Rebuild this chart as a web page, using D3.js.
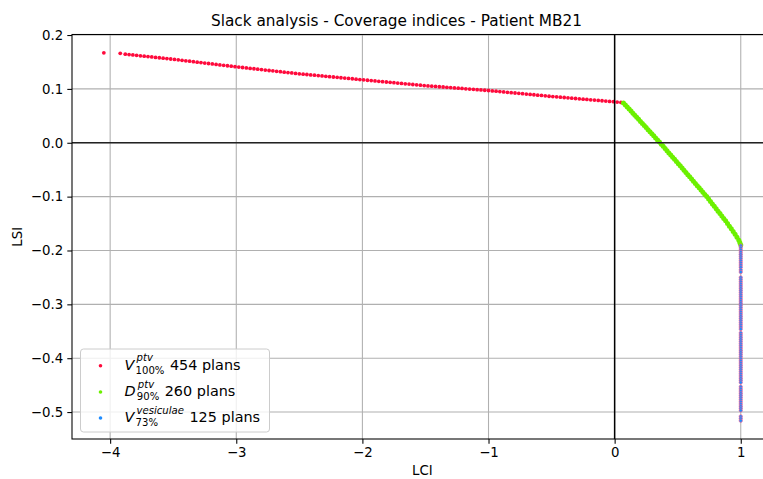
<!DOCTYPE html>
<html>
<head>
<meta charset="utf-8">
<script src="https://cdn.jsdelivr.net/npm/d3@7"></script>
<style>
body{margin:0;background:#fff;}
svg{display:block;font-family:"DejaVu Sans",sans-serif;}
</style>
</head>
<body>
<div id="main_div"></div>
<script>
// series (LCI, LSI)
let redX=[-4.05,-3.92,
-3.88,-3.85,-3.82,-3.79,-3.76,-3.73,-3.70,-3.67,-3.64,-3.61,-3.58,-3.55,-3.52,
-3.49,-3.46,-3.43,-3.40,-3.37,-3.34,-3.31,-3.28,-3.25,-3.22,-3.19,-3.16,-3.13,-3.10,-3.07,-3.04,-3.01,
-2.98,-2.95,-2.92,-2.89,-2.86,-2.83,-2.80,-2.77,-2.74,-2.71,-2.68,-2.65,-2.62,-2.59,-2.56,-2.53,
-2.50,-2.47,-2.44,-2.41,-2.38,-2.35,-2.32,-2.29,-2.26,-2.23,-2.20,-2.17,-2.14,-2.11,-2.08,-2.05,-2.02,
-1.99,-1.96,-1.93,-1.90,-1.87,-1.84,-1.81,-1.78,-1.75,-1.72,-1.69,-1.66,-1.63,-1.60,-1.57,-1.54,-1.51,
-1.48,-1.45,-1.42,-1.39,-1.36,-1.33,-1.30,-1.27,-1.24,-1.21,-1.18,-1.15,-1.12,-1.09,-1.06,-1.03,
-1.00,-0.97,-0.94,-0.91,-0.88,-0.85,-0.82,-0.79,-0.76,-0.73,-0.70,-0.67,-0.64,-0.61,-0.58,-0.55,-0.52,
-0.49,-0.46,-0.43,-0.40,-0.37,-0.34,-0.31,-0.28,-0.25,-0.22,-0.19,-0.16,-0.13,-0.10,-0.07,-0.04,-0.01,
0.02,0.05,0.07];
let redY=[0.167,0.166,
0.1645,0.1638,0.1630,0.1623,0.1615,0.1608,0.1600,0.1593,0.1585,0.1578,0.1570,0.1563,0.1555,
0.1547,0.1539,0.1530,0.1522,0.1514,0.1505,0.1497,0.1488,0.1480,0.1472,0.1463,0.1455,0.1446,0.1438,0.1430,0.1421,0.1413,
0.1405,0.1397,0.1389,0.1381,0.1374,0.1366,0.1358,0.1350,0.1342,0.1335,0.1327,0.1319,0.1311,0.1303,0.1296,0.1288,
0.1280,0.1273,0.1267,0.1260,0.1254,0.1247,0.1240,0.1234,0.1227,0.1221,0.1214,0.1207,0.1201,0.1194,0.1188,0.1181,0.1174,
0.1168,0.1161,0.1155,0.1148,0.1141,0.1135,0.1128,0.1122,0.1115,0.1108,0.1102,0.1095,0.1089,0.1082,0.1075,0.1069,0.1062,
0.1056,0.1051,0.1046,0.1040,0.1035,0.1029,0.1024,0.1019,0.1013,0.1008,0.1002,0.0997,0.0992,0.0986,0.0981,0.0975,
0.0970,0.0963,0.0957,0.0950,0.0944,0.0937,0.0930,0.0924,0.0917,0.0911,0.0904,0.0897,0.0891,0.0884,0.0878,0.0871,0.0864,
0.0858,0.0852,0.0846,0.0840,0.0834,0.0828,0.0822,0.0816,0.0810,0.0804,0.0798,0.0792,0.0786,0.0780,0.0774,0.0768,0.0762,
0.0755,0.0748,0.0740];

let greenX=[0.07,0.085,0.10,0.115,0.13,0.145,0.16,0.175,0.19,0.205,0.22,0.235,0.25,0.265,0.28,0.295,0.31,0.325,0.34,0.355,
0.37,0.385,0.40,0.415,0.43,0.445,0.46,0.475,0.49,0.505,0.52,0.535,0.55,0.565,0.58,0.595,0.61,0.625,0.64,0.655,
0.67,0.685,0.70,0.715,0.73,0.745,0.76,0.775,0.79,0.805,0.82,0.835,0.85,0.865,0.88,0.895,0.91,0.925,0.94,0.955,
0.97,0.985,0.993,1.0];
let greenY=[0.0740,0.0702,0.0664,0.0626,0.0588,0.0550,0.0511,0.0473,0.0435,0.0397,0.0359,0.0320,0.0282,0.0243,0.0205,0.0166,0.0128,0.0090,0.0051,0.0013,
-0.0027,-0.0067,-0.0107,-0.0147,-0.0188,-0.0228,-0.0268,-0.0308,-0.0349,-0.0389,-0.0429,-0.0469,-0.0510,-0.0551,-0.0592,-0.0632,-0.0673,-0.0714,-0.0755,-0.0796,
-0.0837,-0.0877,-0.0918,-0.0959,-0.1000,-0.1045,-0.1090,-0.1135,-0.1180,-0.1225,-0.1270,-0.1315,-0.1360,-0.1405,-0.1450,-0.1499,-0.1549,-0.1598,-0.1647,-0.1699,
-0.1754,-0.1810,-0.1858,-0.1900];

let blueY=[-0.191,-0.195,-0.199,-0.203,-0.207,-0.211,-0.215,-0.219,-0.223,-0.227,-0.231,-0.236,-0.240,
-0.250,-0.254,-0.258,-0.262,-0.266,-0.270,-0.274,-0.278,-0.282,-0.286,-0.290,-0.294,-0.298,-0.302,-0.306,-0.310,-0.314,-0.318,-0.322,-0.326,-0.330,-0.334,-0.338,-0.342,-0.346,
-0.353,-0.357,-0.361,-0.365,-0.369,-0.373,-0.377,-0.381,-0.385,-0.389,-0.393,-0.397,-0.401,-0.405,-0.409,-0.413,-0.417,-0.421,-0.425,-0.429,-0.433,-0.437,-0.441,-0.445,
-0.453,-0.457,-0.461,-0.465,-0.469,-0.473,-0.477,-0.481,-0.485,-0.489,-0.493,-0.497,
-0.508,-0.512,-0.516];
let blueX=blueY.map(function(){return 1.0;});

let xTicks=[-4,-3,-2,-1,0,1];
let yTicks=[-0.5,-0.4,-0.3,-0.2,-0.1,0.0,0.1,0.2];
let legendBase=["V","D","V"];
let legendSup=["ptv","ptv","vesiculae"];
let legendSub=["100%","90%","73%"];
let legendRest=["454 plans","260 plans","125 plans"];
let colors=["#ff0a3c","#6cf000","#1f8cff"];

let size=[763,479];
let plot={left:72,right:772.6,top:34.5,bottom:439};
let xScale,yScale,svg;

render();

function render(){
    svg=d3.select("#main_div").append("svg")
        .attr("width",size[0]).attr("height",size[1]).attr("id","main_svg");
    xScale=d3.scaleLinear().domain([-4.3025,1.2525]).range([plot.left,plot.right]);
    yScale=d3.scaleLinear().domain([-0.550,0.201]).range([plot.bottom,plot.top]);
    drawGrid();
    drawPoints();
    drawRefLines();
    drawAxes();
    drawLegend();
    drawTitles();
}

function fmt(d){
    return d3.format(".1f")(d).replace("-","\u2212");
}

function drawGrid(){
    let g=svg.append("g").attr("id","grid");
    g.selectAll(".vx").data(xTicks).enter().append("line")
        .attr("x1",d=>xScale(d)).attr("x2",d=>xScale(d))
        .attr("y1",plot.top).attr("y2",plot.bottom)
        .attr("stroke","#b0b0b0").attr("stroke-width",1.07);
    g.selectAll(".hy").data(yTicks).enter().append("line")
        .attr("x1",plot.left).attr("x2",plot.right)
        .attr("y1",d=>yScale(d)).attr("y2",d=>yScale(d))
        .attr("stroke","#b0b0b0").attr("stroke-width",1.07);
}

function drawPoints(){
    svg.append("clipPath").attr("id","clip").append("rect")
        .attr("x",plot.left).attr("y",plot.top)
        .attr("width",plot.right-plot.left).attr("height",plot.bottom-plot.top);
    let g=svg.append("g").attr("clip-path","url(#clip)").attr("id","plots");

    g.selectAll(".red").data(redX).enter().append("circle")
        .attr("cx",d=>xScale(d)).attr("cy",(d,i)=>yScale(redY[i]))
        .attr("r",1.9).attr("fill",colors[0]);

    g.selectAll(".green").data(greenX).enter().append("circle")
        .attr("cx",d=>xScale(d)).attr("cy",(d,i)=>yScale(greenY[i]))
        .attr("r",2.5).attr("fill",colors[1]);

    g.selectAll(".blue").data(blueX).enter().append("circle")
        .attr("cx",d=>xScale(d)).attr("cy",(d,i)=>yScale(blueY[i]))
        .attr("r",1.7).attr("fill",colors[2])
        .attr("stroke","#ff5a8c").attr("stroke-opacity",0.6).attr("stroke-width",1);
}

function drawRefLines(){
    svg.append("line")
        .attr("x1",plot.left).attr("x2",plot.right)
        .attr("y1",yScale(0)).attr("y2",yScale(0))
        .attr("stroke","#222").attr("stroke-width",1.5);
    svg.append("line")
        .attr("x1",xScale(0)).attr("x2",xScale(0))
        .attr("y1",plot.top).attr("y2",plot.bottom)
        .attr("stroke","#000").attr("stroke-width",1.5);
}

function drawAxes(){
    let xAxis=d3.axisBottom(xScale).tickValues(xTicks).tickFormat(d=>d3.format("d")(d).replace("-","\u2212"))
        .tickSizeInner(4.7).tickSizeOuter(0).tickPadding(4.2);
    let yAxis=d3.axisLeft(yScale).tickValues(yTicks).tickFormat(fmt)
        .tickSizeInner(4.7).tickSizeOuter(0).tickPadding(4.2);

    let xc=svg.append("g").attr("class","axis").attr("transform","translate(0,"+plot.bottom+")").call(xAxis);
    let yc=svg.append("g").attr("class","axis").attr("transform","translate("+plot.left+",0)").call(yAxis);
    [xc,yc].forEach(function(c){
        c.select(".domain").remove();
        c.selectAll("line").attr("stroke","#000").attr("stroke-width",1.07);
        c.selectAll("text").attr("fill","#000")
            .style("font-size","13.3px").style("font-family","DejaVu Sans");
    });

    // spines
    svg.append("rect")
        .attr("x",plot.left).attr("y",plot.top)
        .attr("width",plot.right-plot.left).attr("height",plot.bottom-plot.top)
        .attr("fill","none").attr("stroke","#000").attr("stroke-width",1.07);
}

function drawLegend(){
    let g=svg.append("g").attr("id","legend");
    g.append("rect")
        .attr("x",80.5).attr("y",349).attr("width",189).attr("height",83)
        .attr("rx",3).attr("fill","#fff").attr("fill-opacity",0.8)
        .attr("stroke","#cccccc").attr("stroke-width",1);

    let rows=[369.5,395.8,421.8];
    legendBase.forEach(function(b,i){
        let y=rows[i];
        g.append("circle").attr("cx",100.5).attr("cy",y-3.8).attr("r",1.8).attr("fill",colors[i]);

        let t=g.append("text").attr("x",124.5).attr("y",y)
            .style("font-size","14.4px").style("font-style","italic").text(b);
        let w=t.node().getComputedTextLength();
        let sx=124.5+w;
        let sup=g.append("text").attr("x",sx+2.2).attr("y",y-8.2)
            .style("font-size","10.1px").style("font-style","italic").text(legendSup[i]);
        let sub=g.append("text").attr("x",sx+1.2).attr("y",y+4.3)
            .style("font-size","10.1px").text(legendSub[i]);
        let end=Math.max(sx+2.2+sup.node().getComputedTextLength(),sx+1.2+sub.node().getComputedTextLength());
        g.append("text").attr("x",end+5.5).attr("y",y)
            .style("font-size","14.4px").text(legendRest[i]);
    });
}

function drawTitles(){
    svg.append("text")
        .attr("x",396.5).attr("y",26)
        .attr("text-anchor","middle")
        .style("font-size","15.3px")
        .text("Slack analysis - Coverage indices - Patient MB21");
    svg.append("text")
        .attr("x",(plot.left+plot.right)/2).attr("y",474.5)
        .attr("text-anchor","middle")
        .style("font-size","13.3px")
        .text("LCI");
    svg.append("text")
        .attr("transform","translate(22,"+((plot.top+plot.bottom)/2)+") rotate(-90)")
        .attr("text-anchor","middle")
        .style("font-size","13.3px")
        .text("LSI");
}
</script>
</body>
</html>
